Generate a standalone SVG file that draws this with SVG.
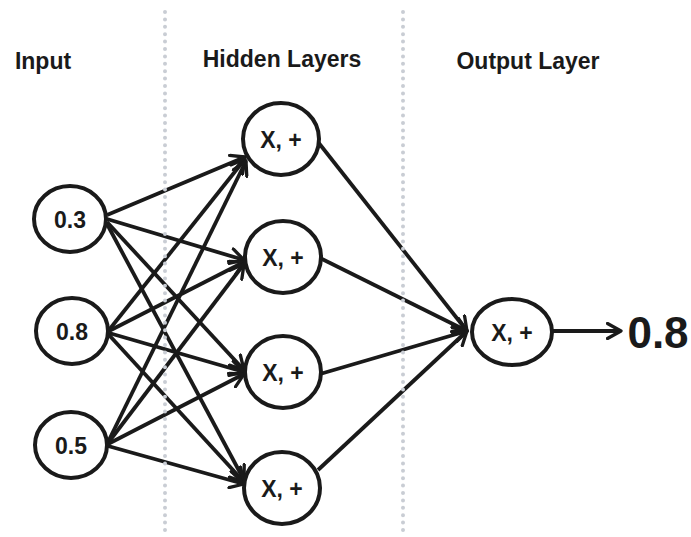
<svg xmlns="http://www.w3.org/2000/svg" width="691" height="537" viewBox="0 0 691 537">
<style>
.node{fill:#fff;stroke:#1a1a1a;stroke-width:4}
.lbl{font-family:"Liberation Sans Narrow","Liberation Sans",sans-serif;font-weight:bold;fill:#1a1a1a;text-anchor:middle}
.t{font-size:23px}
.h{font-size:23px}
.c{stroke:#1a1a1a;stroke-width:3.8;fill:none;marker-end:url(#ah)}
.sep{stroke:#c9cdd4;stroke-width:4;stroke-linecap:round;stroke-dasharray:0 7.4}
</style>
<defs>
<marker id="ah" viewBox="0 0 12 12" refX="10" refY="6" markerWidth="18" markerHeight="18" markerUnits="userSpaceOnUse" orient="auto">
<path d="M1,1 L10,6 L1,11" fill="none" stroke="#1a1a1a" stroke-width="2.2" stroke-linecap="round" stroke-linejoin="round"/>
</marker>
</defs>
<rect width="691" height="537" fill="#fff"/>
<g id="connectors">
<line class="c" x1="107" y1="215" x2="245" y2="157"/>
<line class="c" x1="107" y1="219" x2="244" y2="260"/>
<line class="c" x1="107" y1="222" x2="244" y2="370"/>
<line class="c" x1="107" y1="224" x2="244" y2="480"/>
<line class="c" x1="109" y1="330" x2="245" y2="159"/>
<line class="c" x1="109" y1="331" x2="244" y2="262"/>
<line class="c" x1="109" y1="333" x2="244" y2="372"/>
<line class="c" x1="109" y1="335" x2="244" y2="482"/>
<line class="c" x1="108" y1="442" x2="246" y2="161"/>
<line class="c" x1="108" y1="443" x2="244" y2="264"/>
<line class="c" x1="108" y1="444" x2="244" y2="374"/>
<line class="c" x1="108" y1="446" x2="244" y2="484"/>
<line class="c" x1="318" y1="142" x2="467" y2="331"/>
<line class="c" x1="320" y1="258" x2="467" y2="331"/>
<line class="c" x1="320" y1="374" x2="467" y2="331"/>
<line class="c" x1="318" y1="470" x2="467" y2="331"/>
<line class="c" x1="552" y1="331" x2="621" y2="331"/>
</g>
<g id="separators">
<line class="sep" x1="165" y1="12" x2="165" y2="537"/>
<line class="sep" x1="403" y1="12" x2="403" y2="537"/>
</g>
<g id="headers">
<text class="lbl h" x="43" y="69">Input</text>
<text class="lbl h" x="282" y="67">Hidden Layers</text>
<text class="lbl h" x="528" y="69">Output Layer</text>
</g>
<g id="in1"><ellipse class="node" cx="70" cy="219" rx="36" ry="33"/><text class="lbl t" x="70" y="228">0.3</text></g>
<g id="in2"><ellipse class="node" cx="72" cy="331" rx="36" ry="33"/><text class="lbl t" x="72" y="340">0.8</text></g>
<g id="in3"><ellipse class="node" cx="71" cy="445" rx="36" ry="33"/><text class="lbl t" x="71" y="454">0.5</text></g>
<g id="h1"><ellipse class="node" cx="281" cy="139" rx="38" ry="36"/><text class="lbl t" x="281" y="148">X, +</text></g>
<g id="h2"><ellipse class="node" cx="283" cy="257" rx="38" ry="36"/><text class="lbl t" x="283" y="266">X, +</text></g>
<g id="h3"><ellipse class="node" cx="283" cy="372" rx="38" ry="36"/><text class="lbl t" x="283" y="381">X, +</text></g>
<g id="h4"><ellipse class="node" cx="282" cy="488" rx="38" ry="36"/><text class="lbl t" x="282" y="497">X, +</text></g>
<g id="out"><ellipse class="node" cx="512" cy="332" rx="40" ry="33"/><text class="lbl t" x="512" y="341">X, +</text></g>
<g id="result"><text class="lbl" x="658" y="348" font-size="44">0.8</text></g>
</svg>
